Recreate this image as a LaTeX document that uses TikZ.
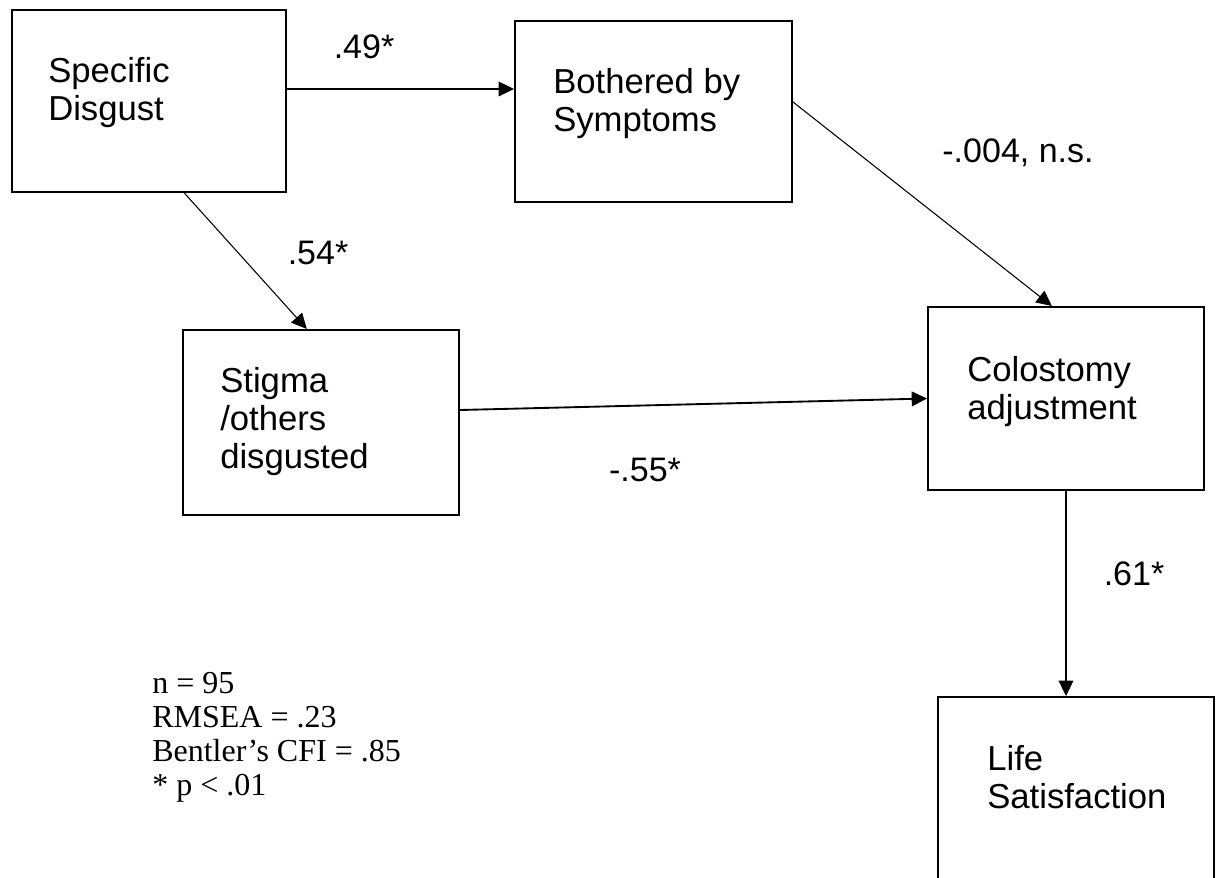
\documentclass[tikz,border=0pt]{standalone}
\usepackage{fontspec}
\setmainfont{Liberation Sans}
\newfontfamily\statfont{Liberation Serif}
\usetikzlibrary{calc, arrows.meta}
\tikzset{
    box/.style 2 args={draw, line width=1.5pt, inner sep=0pt,
        minimum width=#1*0.75pt, minimum height=#2*0.75pt},
    boxtext/.style={anchor=north west, inner sep=0pt, align=left,
        font=\fontsize{26}{28.5}\selectfont},
    coef/.style={inner sep=0pt, font=\fontsize{25.5}{28}\selectfont},
    link/.style={line width=0.8pt, -{Triangle[length=11.5pt, width=11pt]}},
    fitstats/.style={anchor=north west, inner sep=0pt, align=left,
        font=\statfont\fontsize{24}{25.5}\selectfont}
}

\begin{document}
\begin{tikzpicture}[x=0.75pt, y=-0.75pt]
    \clip (0,0) rectangle (1219,877);

    % variables
    \draw (149,101) node[box={274}{182}] (sd) {};
    \draw (653.5,111.5) node[box={277}{181}] (bs) {};
    \draw (321,422.5) node[box={276}{185}] (st) {};
    \draw (1066,398.5) node[box={276}{183}] (col) {};
    \draw (1076,792) node[box={276}{190}] (life) {};

    \draw (48,57) node[boxtext] (sdtxt) {Specific\\Disgust};
    \draw (553,68) node[boxtext] (bstxt) {Bothered by\\Symptoms};
    \draw (220,367) node[boxtext] (sttxt) {Stigma\\/others\\disgusted};
    \draw (967,356) node[boxtext] (coltxt) {Colostomy\\adjustment};
    \draw (987,745) node[boxtext] (lifetxt) {Life\\Satisfaction};

    % paths
    \draw[link] (sd.east |- 0,89) -- (bs.west |- 0,89);
    \draw[link] ($(sd.south west)!0.628!(sd.south east)$) -- ($(st.north west)!0.449!(st.north east)$);
    \draw[link] (bs.east |- 0,102) -- ($(col.north west)!0.449!(col.north east)$);
    \draw[link, line width=1.4pt] (st.east |- 0,410) -- (col.west);
    \draw[link] (col.south) -- (col.south |- life.north);

    \draw (364,47) node[coef] (c49) {.49*};
    \draw (318,253) node[coef] (c54) {.54*};
    \draw (1018,153) node[coef] (c004) {-.004, n.s.};
    \draw (645,470) node[coef] (c55) {-.55*};
    \draw (1134,574) node[coef] (c61) {.61*};

    % fit
    \draw (152,672) node[fitstats] (fit) {n = 95\\RMSEA = .23\\Bentler’s CFI = .85\\* p < .01};
\end{tikzpicture}
\end{document}
